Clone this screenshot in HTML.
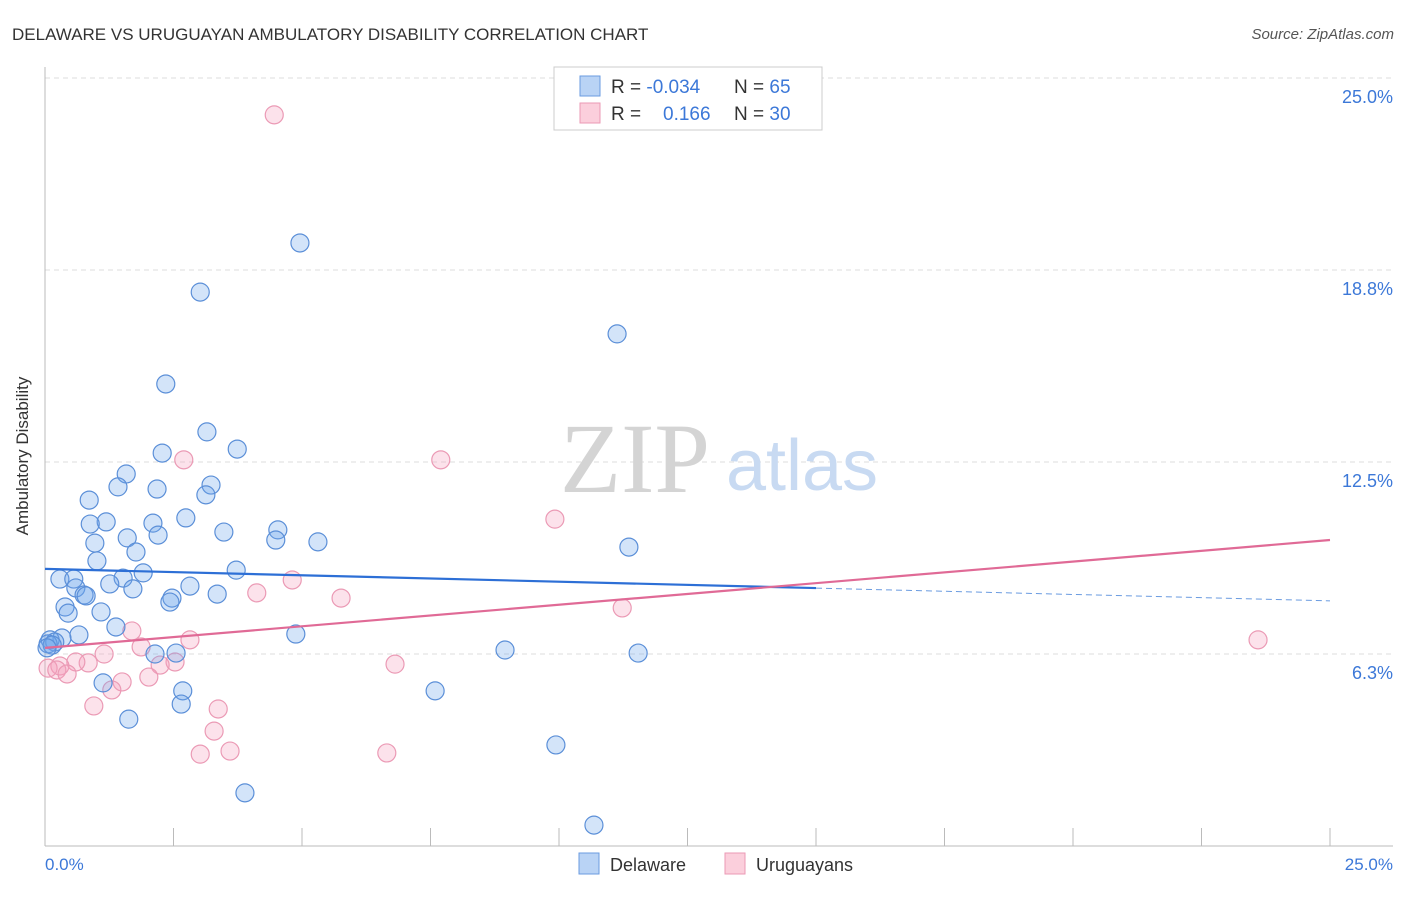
<!DOCTYPE html>
<html><head><meta charset="utf-8"><style>
body{margin:0;background:#fff;font-family:"Liberation Sans",sans-serif}
</style></head><body>
<svg width="1406" height="892" style="font-family:'Liberation Sans',sans-serif">
<text x="12" y="40" font-size="17" fill="#333">DELAWARE VS URUGUAYAN AMBULATORY DISABILITY CORRELATION CHART</text>
<text x="1394" y="39" font-size="15" fill="#555" font-style="italic" text-anchor="end">Source: ZipAtlas.com</text>
<g id="grid"></g>
<text x="635" y="492" font-size="100" fill="#d4d4d4" style="font-family:'Liberation Serif',serif" text-anchor="middle">ZIP</text>
<text x="802" y="490" font-size="72" fill="#c8daf2" text-anchor="middle">atlas</text>
<g id="axes"></g>
<g id="pts"></g>
<g id="trend"></g>
<text x="28" y="456" font-size="17" fill="#333" text-anchor="middle" transform="rotate(-90 28 456)">Ambulatory Disability</text>
<text x="45" y="870" font-size="17" fill="#3c78d8">0.0%</text>
<text x="1393" y="870" font-size="17" fill="#3c78d8" text-anchor="end">25.0%</text>
<g>
<rect x="554" y="67" width="268" height="63" fill="#fff" stroke="#ccc"/>
<rect x="580" y="76" width="20" height="20" fill="#b9d3f5" stroke="#6a9be0"/>
<rect x="580" y="103" width="20" height="20" fill="#fbcfdc" stroke="#eb9ab5"/>
<text x="611" y="93" font-size="19" fill="#333">R = <tspan fill="#3c78d8">-0.034</tspan></text>
<text x="734" y="93" font-size="19" fill="#333">N = <tspan fill="#3c78d8">65</tspan></text>
<text x="611" y="120" font-size="19" fill="#333">R = <tspan fill="#3c78d8" x="663">0.166</tspan></text>
<text x="734" y="120" font-size="19" fill="#333">N = <tspan fill="#3c78d8">30</tspan></text>
</g>
<g>
<rect x="579" y="853" width="20" height="21" fill="#b9d3f5" stroke="#6a9be0"/>
<text x="610" y="871" font-size="18" fill="#333">Delaware</text>
<rect x="725" y="853" width="20" height="21" fill="#fbcfdc" stroke="#eb9ab5"/>
<text x="756" y="871" font-size="18" fill="#333">Uruguayans</text>
</g>
</svg>
<script>
const yTicks=[25,18.75,12.5,6.25];
const yTickLabels=["25.0%","18.8%","12.5%","6.3%"];
const xTicks=[0,2.5,5,7.5,10,12.5,15,17.5,20,22.5,25];
const delX=[4.96,3.02,11.13,2.35,3.15,3.74,2.28,1.58,1.42,2.18,3.23,0.86,3.13,1.19,0.88,2.10,2.74,3.48,4.53,4.49,2.20,1.60,0.97,5.31,11.36,1.77,1.01,3.72,1.91,1.52,0.29,0.56,0.60,1.26,2.82,1.71,0.76,0.80,3.35,2.47,2.43,0.39,0.45,1.09,1.38,4.88,0.66,0.33,0.10,0.19,0.06,0.14,2.14,2.55,8.95,11.54,1.13,2.68,7.59,2.65,1.63,9.94,3.89,10.68,0.04];
const delY=[19.63,18.03,16.67,15.04,13.48,12.92,12.79,12.11,11.69,11.62,11.75,11.26,11.43,10.55,10.48,10.51,10.68,10.22,10.29,9.96,10.12,10.03,9.86,9.90,9.73,9.57,9.28,8.98,8.89,8.72,8.69,8.69,8.40,8.53,8.46,8.37,8.17,8.14,8.20,8.07,7.94,7.78,7.58,7.62,7.13,6.90,6.87,6.77,6.71,6.64,6.58,6.54,6.25,6.28,6.38,6.28,5.31,5.05,5.05,4.62,4.13,3.29,1.73,0.68,6.45];
const uruX=[4.46,2.70,7.70,9.92,4.81,4.12,5.76,11.23,23.60,1.69,2.82,1.87,1.15,2.53,2.24,0.84,0.60,6.81,0.29,0.06,0.23,0.43,2.02,1.50,1.30,0.95,3.37,3.29,3.60,3.02,6.65];
const uruY=[23.80,12.57,12.57,10.64,8.66,8.24,8.07,7.75,6.71,7.00,6.71,6.48,6.25,5.99,5.89,5.96,5.99,5.92,5.86,5.79,5.73,5.60,5.50,5.34,5.08,4.56,4.46,3.74,3.09,2.99,3.03];
const delTrend=[9.02,7.98];
const uruTrend=[6.45,9.96];
const NS="http://www.w3.org/2000/svg";
const sx=v=>45+v/25*1285, sy=v=>846-v/25*768;
function mk(tag,attrs,parent){const e=document.createElementNS(NS,tag);for(const k in attrs)e.setAttribute(k,attrs[k]);document.getElementById(parent).appendChild(e);return e;}
yTicks.forEach((t,i)=>{
 const l=mk('line',{x1:45,x2:1393,y1:sy(t),y2:sy(t),stroke:'#ddd','stroke-dasharray':'5,4'},'grid');
 
 
 const tx=mk('text',{x:1393,y:sy(t)+25,'font-size':18,fill:'#3c78d8','text-anchor':'end'},'grid');
 tx.textContent=yTickLabels[i];
 
 
});
const ya=mk('line',{x1:45,x2:45,y1:67,y2:846,stroke:'#bbb'},'axes');


const xa=mk('line',{x1:45,x2:1393,y1:846,y2:846,stroke:'#bbb'},'axes');


xTicks.forEach(t=>{
 const l=mk('line',{x1:sx(t),x2:sx(t),y1:828,y2:846,stroke:'#bbb'},'axes');
 
 
});
uruX.forEach((x,i)=>{
 const c=mk('circle',{cx:sx(x),cy:sy(uruY[i]),r:9,fill:'rgba(245,160,190,0.3)',stroke:'#eb9ab5','stroke-width':1.2},'pts');
 
 
});
delX.forEach((x,i)=>{
 const c=mk('circle',{cx:sx(x),cy:sy(delY[i]),r:9,fill:'rgba(110,165,235,0.3)',stroke:'#5b8fd8','stroke-width':1.2},'pts');
 
 
});
const dAt=x=>delTrend[0]+(delTrend[1]-delTrend[0])*x/25;
const t1=mk('line',{x1:sx(0),y1:sy(dAt(0)),x2:sx(15),y2:sy(dAt(15)),stroke:'#2d6fd6','stroke-width':2.2},'trend');


const t2=mk('line',{x1:sx(15),y1:sy(dAt(15)),x2:sx(25),y2:sy(dAt(25)),stroke:'#6a9be0','stroke-width':1,'stroke-dasharray':'6,4'},'trend');


const t3=mk('line',{x1:sx(0),y1:sy(uruTrend[0]),x2:sx(25),y2:sy(uruTrend[1]),stroke:'#e06a96','stroke-width':2.2},'trend');


</script>
</body></html>
